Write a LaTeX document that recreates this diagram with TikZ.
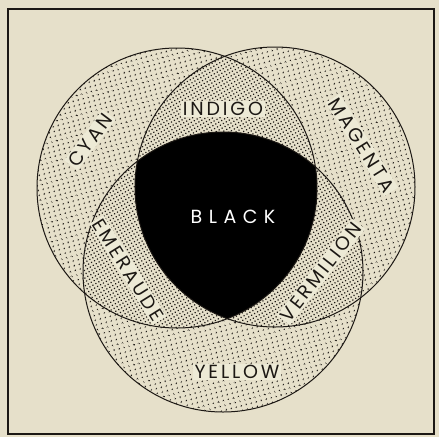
\documentclass[tikz,border=0pt]{standalone}
\usepackage{fontspec}
\setmainfont{Poppins}
\usetikzlibrary{patterns.meta}
\definecolor{paper}{RGB}{230,224,202}
\definecolor{patch}{RGB}{237,234,214}
\definecolor{ink}{RGB}{28,24,20}

\begin{document}
\begin{tikzpicture}[
    x=1pt, y=-1pt,
    sparse/.style={pattern={Dots[distance=5.4pt, radius=0.95pt, angle=15]}, pattern color=ink},
    dense/.style={pattern={Dots[distance=3.4pt, radius=0.85pt, angle=30]}, pattern color=ink},
    ring/.style={draw=ink, line width=1pt},
    colname/.style={fill=patch, inner sep=1.5pt, text=ink, font=\fontsize{19}{19}\selectfont\addfontfeature{LetterSpace=15}}
]
    \useasboundingbox (0,0) rectangle (439,437);
    \fill[paper] (0,0) rectangle (439,437);

    \coordinate (cy) at (177,188);
    \coordinate (mg) at (275,187);
    \coordinate (yl) at (223,272);

    \foreach \c in {cy,mg,yl}
        \fill[sparse] (\c) circle[radius=140];

    \foreach \a/\b in {cy/mg,cy/yl,mg/yl} {
        \begin{scope}
            \clip (\a) circle[radius=140];
            \fill[paper] (\b) circle[radius=140];
            \fill[dense] (\b) circle[radius=140];
        \end{scope}
    }

    \begin{scope}
        \clip (cy) circle[radius=140];
        \clip (mg) circle[radius=140];
        \fill[black] (yl) circle[radius=140];
    \end{scope}

    \foreach \c in {cy,mg,yl}
        \draw[ring] (\c) circle[radius=140];

    \draw[ink, line width=2pt] (8,9) rectangle (434,434);

    \node[colname, rotate=53] (cyanlbl) at (90,140) {CYAN};
    \node[colname, rotate=-58] (magentalbl) at (362,145) {MAGENTA};
    \node[colname] (yellowlbl) at (237,372) {YELLOW};
    \node[colname] (indigolbl) at (223,109) {INDIGO};
    \node[colname, rotate=-58] (emeraudelbl) at (128,270) {EMERAUDE};
    \node[colname, rotate=52] (vermilionlbl) at (321,272) {VERMILION};
    \node[font=\fontsize{19}{19}\selectfont\addfontfeature{LetterSpace=34}, text=white] (blacklbl) at (233,217) {BLACK};
\end{tikzpicture}
\end{document}
